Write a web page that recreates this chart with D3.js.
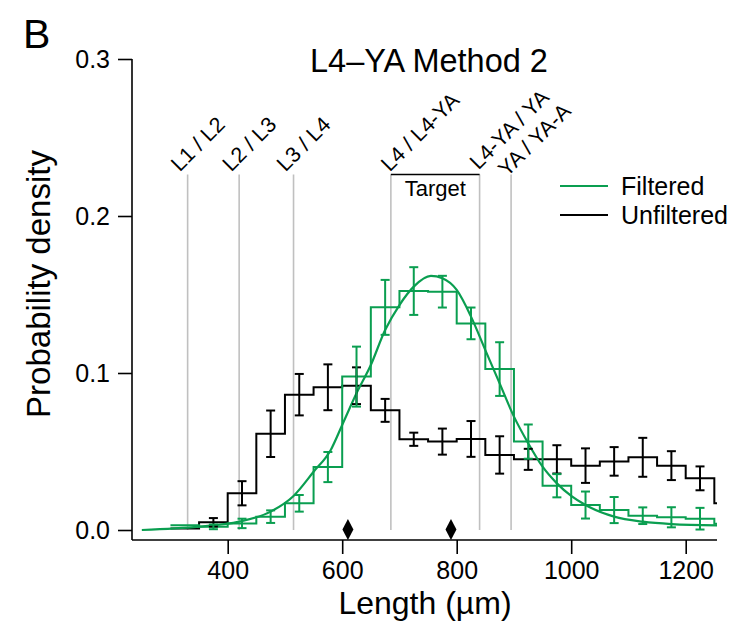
<!DOCTYPE html>
<html lang="en">
<head>
<meta charset="utf-8">
<title>L4-YA Method 2</title>
<script src="https://d3js.org/d3.v7.min.js"></script>
<style>
  body { margin: 0; background: #fff; }
  text { font-family: "Liberation Sans", Arial, sans-serif; fill: #000; }
</style>
</head>
<body>
<script>
// histogram bins (left edge, um), each 50 um wide
var binStarts = [300, 350, 400, 450, 500, 550, 600, 650, 700, 750,
                 800, 850, 900, 950, 1000, 1050, 1100, 1150, 1200, 1250];
var binWidth = 50;

var unfiltered    = [0.001, 0.0049, 0.0234, 0.0613, 0.0862, 0.0909, 0.0919, 0.0762, 0.0578, 0.0563,
                     0.0580, 0.0478, 0.0450, 0.0450, 0.0410, 0.0437, 0.0463, 0.0410, 0.0329, 0.0170];
var unfilteredErr = [0, 0.0027, 0.0077, 0.0148, 0.0132, 0.0146, 0.0117, 0.0073, 0.0042, 0.0083,
                     0.0114, 0.0119, 0.0067, 0.0090, 0.0110, 0.0091, 0.0124, 0.0092, 0.0076, 0];

var filtered      = [0.003, 0.002, 0.0042, 0.0085, 0.0170, 0.0401, 0.0977, 0.1418, 0.1522, 0.1518,
                     0.1316, 0.1025, 0.0563, 0.0282, 0.0159, 0.0127, 0.0091, 0.0081, 0.0072, 0.0040];
var filteredErr   = [0, 0.0015, 0.0030, 0.0040, 0.0053, 0.0096, 0.0191, 0.0175, 0.0152, 0.0101,
                     0.0101, 0.0171, 0.0109, 0.0074, 0.0086, 0.0083, 0.0053, 0.0064, 0.0069, 0];

// fitted curve for the filtered data
var fitX = [250, 350, 420, 475, 515, 550, 580, 600, 625, 650, 675, 700, 725, 755, 775,
            800, 825, 850, 875, 900, 925, 950, 975, 1000, 1025, 1075, 1125, 1175, 1255];
var fitY = [0.0, 0.0021, 0.0053, 0.0117, 0.0217, 0.0371, 0.051, 0.0669, 0.0871, 0.1051, 0.1274, 0.1433, 0.155, 0.1618, 0.1603,
            0.1529, 0.1359, 0.1146, 0.0934, 0.0722, 0.0552, 0.0403, 0.0297, 0.0217, 0.0159, 0.0085, 0.0053, 0.0038, 0.003];

// stage boundaries
var stageBounds = [330, 420, 515, 685, 840, 895];
var stageLabels = ["L1 / L2", "L2 / L3", "L3 / L4", "L4 / L4-YA", "L4-YA / YA", "YA / YA-A"];
var boundTop = 0.2265;

var medians = [610, 790];

var xTicks = [400, 600, 800, 1000, 1200];
var yTicks = [0, 0.1, 0.2, 0.3];

var seriesNames = ["Filtered", "Unfiltered"];
var green = "#0a9e50";

// layout
var W = 734, H = 633;
var plotLeft = 132, plotRight = 717, plotTop = 59, plotBottom = 540;

var svg = d3.select("body").append("svg")
    .attr("width", W).attr("height", H);

var x = d3.scaleLinear().domain([400, 1200]).range([227.7, 685.7]);
var y = d3.scaleLinear().domain([0, 0.3]).range([530, 59]);

svg.append("clipPath").attr("id", "plot")
  .append("rect").attr("x", plotLeft).attr("y", 0)
  .attr("width", plotRight - plotLeft).attr("height", plotBottom);

var plot = svg.append("g").attr("clip-path", "url(#plot)");

// stage boundary lines
plot.selectAll("line.bound")
  .data(stageBounds)
  .enter().append("line")
    .attr("class", "bound")
    .attr("x1", function(d) { return x(d); })
    .attr("x2", function(d) { return x(d); })
    .attr("y1", y(boundTop))
    .attr("y2", y(0))
    .attr("stroke", "#c0c0c0")
    .attr("stroke-width", 1.6);

// target bracket
svg.append("line")
  .attr("x1", x(stageBounds[3])).attr("x2", x(stageBounds[4]))
  .attr("y1", y(boundTop)).attr("y2", y(boundTop))
  .attr("stroke", "#000").attr("stroke-width", 1.5);
svg.append("text")
  .attr("x", (x(stageBounds[3]) + x(stageBounds[4])) / 2)
  .attr("y", y(boundTop) + 22)
  .attr("text-anchor", "middle")
  .attr("font-size", "22px")
  .text("Target");

// rotated stage labels
var labelDx = [-8, -8, -8, -1, -1, -4];
var labelDy = [-2, -2, -2, -2, -4, 3];
svg.selectAll("text.stage")
  .data(stageLabels)
  .enter().append("text")
    .attr("class", "stage")
    .attr("font-size", "21.5px")
    .attr("transform", function(d, i) {
      var px = x(stageBounds[i]) + labelDx[i];
      var py = y(boundTop) + labelDy[i];
      return "translate(" + px + "," + py + ") rotate(-45)";
    })
    .text(function(d) { return d; });

// histograms
function stepPoints(vals) {
  var pts = binStarts.map(function(b, i) { return [b, vals[i]]; });
  pts.push([binStarts[binStarts.length - 1] + binWidth, vals[vals.length - 1]]);
  return pts;
}
var stepLine = d3.line()
  .x(function(d) { return x(d[0]); })
  .y(function(d) { return y(d[1]); })
  .curve(d3.curveStepAfter);

plot.append("path")
  .attr("d", stepLine(stepPoints(unfiltered)))
  .attr("fill", "none").attr("stroke", "#000").attr("stroke-width", 2);

plot.append("path")
  .attr("d", stepLine(stepPoints(filtered)))
  .attr("fill", "none").attr("stroke", green).attr("stroke-width", 2);

// fitted curve
var fitLine = d3.line()
  .x(function(d) { return x(d[0]); })
  .y(function(d) { return y(d[1]); })
  .curve(d3.curveMonotoneX);
plot.append("path")
  .attr("d", fitLine(fitX.map(function(v, i) { return [v, fitY[i]]; })))
  .attr("fill", "none").attr("stroke", green).attr("stroke-width", 2.2);

// error bars
function errorBars(vals, errs, colour) {
  var data = binStarts.map(function(b, i) {
    return { c: b + binWidth / 2, v: vals[i], e: errs[i] };
  }).filter(function(d) { return d.e > 0; });
  var g = plot.append("g")
    .attr("stroke", colour).attr("stroke-width", 2).attr("fill", "none");
  var bars = g.selectAll("g").data(data).enter().append("g");
  bars.append("line")
    .attr("x1", function(d) { return x(d.c); })
    .attr("x2", function(d) { return x(d.c); })
    .attr("y1", function(d) { return y(d.v - d.e); })
    .attr("y2", function(d) { return y(d.v + d.e); });
  [-1, 1].forEach(function(s) {
    bars.append("line")
      .attr("x1", function(d) { return x(d.c) - 4.5; })
      .attr("x2", function(d) { return x(d.c) + 4.5; })
      .attr("y1", function(d) { return y(d.v + s * d.e); })
      .attr("y2", function(d) { return y(d.v + s * d.e); });
  });
}
errorBars(unfiltered, unfilteredErr, "#000");
errorBars(filtered, filteredErr, green);

// median diamonds
svg.selectAll("path.median")
  .data(medians)
  .enter().append("path")
    .attr("class", "median")
    .attr("d", function(d) {
      var cx = x(d), cy = 529.5;
      return "M" + cx + "," + (cy - 10.5) + "L" + (cx + 5.5) + "," + cy +
             "L" + cx + "," + (cy + 10.5) + "L" + (cx - 5.5) + "," + cy + "Z";
    })
    .attr("fill", "#000");

// axes
var xAxis = d3.axisBottom(x).tickValues(xTicks).tickSize(14).tickPadding(7)
  .tickFormat(d3.format("d"));
var gx = svg.append("g").attr("transform", "translate(0," + plotBottom + ")").call(xAxis);
gx.select(".domain").remove();
gx.selectAll("line").attr("stroke", "#000").attr("stroke-width", 1.6);
gx.selectAll("text").attr("font-size", "25px").attr("font-family", "Liberation Sans, Arial, sans-serif").attr("fill", "#000");

var yAxis = d3.axisLeft(y).tickValues(yTicks).tickSize(14).tickPadding(8)
  .tickFormat(d3.format(".1f"));
var gy = svg.append("g").attr("transform", "translate(" + plotLeft + ",0)").call(yAxis);
gy.select(".domain").remove();
gy.selectAll("line").attr("stroke", "#000").attr("stroke-width", 1.6);
gy.selectAll("text").attr("font-size", "25px").attr("font-family", "Liberation Sans, Arial, sans-serif").attr("fill", "#000");

svg.append("line").attr("x1", plotLeft).attr("x2", plotLeft).attr("y1", plotTop).attr("y2", plotBottom)
  .attr("stroke", "#000").attr("stroke-width", 1.6);
svg.append("line").attr("x1", plotLeft).attr("x2", plotRight).attr("y1", plotBottom).attr("y2", plotBottom)
  .attr("stroke", "#000").attr("stroke-width", 1.6);

// titles
svg.append("text").attr("x", 425).attr("y", 614).attr("text-anchor", "middle")
  .attr("font-size", "32px").text("Length (\u00b5m)");
svg.append("text").attr("transform", "translate(50,284) rotate(-90)")
  .attr("text-anchor", "middle").attr("font-size", "33px").text("Probability density");
svg.append("text").attr("x", 429).attr("y", 72).attr("text-anchor", "middle")
  .attr("font-size", "32.5px").text("L4\u2013YA Method 2");
svg.append("text").attr("x", 23).attr("y", 48).attr("font-size", "41px").text("B");

// legend
var legend = svg.selectAll("g.legend")
  .data(seriesNames)
  .enter().append("g")
    .attr("class", "legend")
    .attr("transform", function(d, i) { return "translate(560," + (186 + i * 29) + ")"; });
legend.append("line").attr("x1", 0).attr("x2", 48)
  .attr("stroke", function(d, i) { return i === 0 ? green : "#000"; })
  .attr("stroke-width", 2);
legend.append("text").attr("x", 61).attr("y", 9).attr("font-size", "25px")
  .text(function(d) { return d; });
</script>
</body>
</html>
